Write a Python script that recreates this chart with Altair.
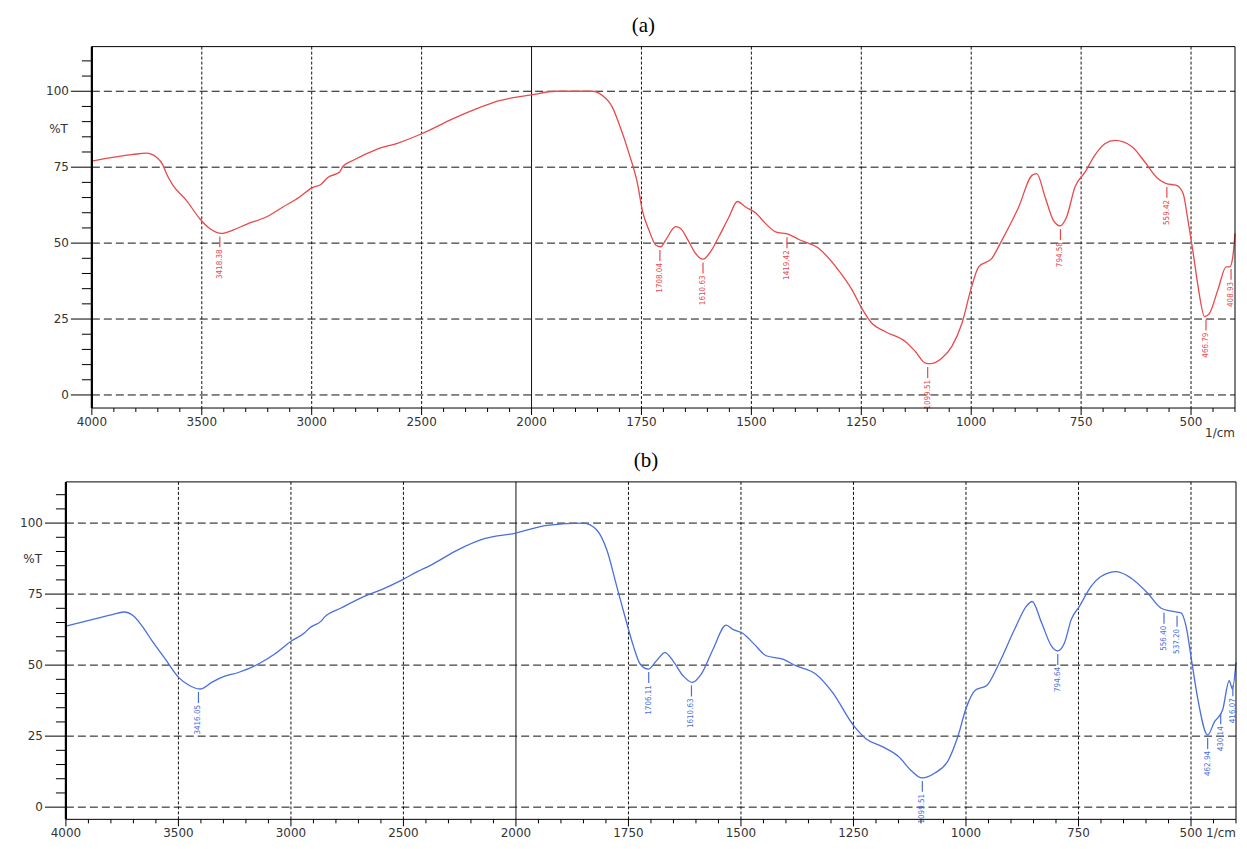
import altair as alt
import pandas as pd

# ---------------- data ----------------
wn_a = [4000, 3812, 3753, 3706, 3676, 3661, 3631, 3570, 3510, 3464, 3411, 3358, 3297, 3207, 3131,
        3055, 2999, 2957, 2927, 2873, 2858, 2813, 2707, 2601, 2500, 2359, 2252, 2146, 2001, 1945,
        1861, 1839, 1816, 1801, 1778, 1759, 1748, 1733, 1717, 1706, 1695, 1672, 1661, 1642, 1627,
        1610, 1593, 1574, 1551, 1532, 1513, 1490, 1468, 1445, 1415, 1392, 1347, 1302, 1271, 1251,
        1226, 1196, 1150, 1127, 1104, 1093, 1067, 1044, 1021, 1001, 983, 953, 930, 892, 862,
        851, 832, 813, 798, 783, 764, 741, 719, 696, 673, 635, 605, 575, 556, 533,
        518, 507, 495, 484, 469, 458, 439, 420, 412, 405, 400]
t_a = [77.0, 79.2, 79.6, 78.3, 75.6, 72.9, 69.0, 64.1, 58.1, 54.8, 53.2, 54.3, 56.2, 58.6, 61.9,
       65.2, 68.2, 69.4, 71.6, 73.4, 75.3, 77.2, 80.8, 83.1, 86.0, 90.9, 94.2, 96.9, 98.8, 100.0,
       100.0, 98.6, 94.7, 89.3, 79.4, 69.6, 60.8, 54.3, 49.3, 48.8, 51.0, 55.4, 54.8, 50.4, 46.6,
       44.7, 47.1, 52.1, 58.6, 63.7, 61.9, 59.9, 56.5, 53.7, 52.9, 51.2, 48.3, 41.1, 34.6, 29.1,
       23.6, 20.9, 17.6, 14.3, 10.5, 10.3, 12.1, 16.0, 23.6, 34.6, 42.2, 45.0, 51.0, 61.9, 72.3,
       72.9, 65.2, 57.5, 55.7, 58.6, 68.5, 73.4, 78.9, 82.7, 83.8, 81.8, 76.7, 71.2, 69.6, 69.0,
       66.3, 57.5, 46.6, 35.7, 25.8, 26.9, 34.6, 42.2, 42.2, 45.5, 53.2]

wn_b = [4000, 3853, 3794, 3742, 3698, 3661, 3617, 3558, 3499, 3455, 3403, 3352, 3308, 3234, 3145,
        3072, 2998, 2939, 2917, 2866, 2851, 2777, 2674, 2600, 2501, 2438, 2378, 2260, 2141, 2000,
        1931, 1850, 1820, 1798, 1776, 1754, 1739, 1724, 1706, 1688, 1669, 1651, 1629, 1608, 1588,
        1562, 1533, 1518, 1496, 1470, 1444, 1407, 1378, 1334, 1297, 1250, 1223, 1186, 1150, 1120,
        1098, 1069, 1039, 1017, 1000, 980, 954, 929, 892, 866, 853, 832, 810, 796, 781,
        766, 748, 722, 700, 666, 633, 596, 567, 544, 522, 511, 498, 485, 463, 448,
        430, 415, 408, 400]
t_b = [63.7, 66.6, 67.8, 68.7, 67.2, 63.7, 58.5, 52.1, 45.7, 43.0, 41.6, 43.9, 45.7, 47.4, 50.4,
       53.9, 58.5, 61.4, 63.1, 65.5, 66.9, 70.1, 74.2, 76.5, 80.2, 82.9, 85.2, 90.5, 94.5, 96.5,
       99.2, 100.0, 97.5, 90.5, 77.7, 64.9, 56.7, 50.4, 48.6, 51.5, 54.4, 51.5, 46.3, 43.9, 46.9,
       55.6, 64.1, 62.6, 61.2, 57.3, 53.3, 52.1, 49.8, 46.9, 40.5, 28.8, 24.2, 21.3, 17.8, 12.6,
       10.3, 12.0, 16.6, 25.4, 34.7, 41.1, 42.8, 49.8, 62.6, 70.7, 72.4, 64.9, 56.7, 55.0, 57.9,
       66.1, 70.7, 77.7, 81.2, 82.9, 80.6, 75.3, 70.1, 69.0, 68.4, 63.7, 50.9, 38.2, 25.4, 30.0,
       34.1, 44.5, 41.6, 50.9]

peak_wn_a = [3418, 1708, 1610, 1419, 1099, 797, 555, 466, 409]
peak_t_a = [53.2, 48.7, 44.6, 52.9, 10.2, 55.6, 69.5, 25.8, 42.5]
peak_lbl_a = ["3418.38", "1708.04", "1610.63", "1419.42", "1099.51", "794.58", "559.42", "466.79", "408.93"]

peak_wn_b = [3411, 1705, 1610, 1097, 796, 560, 531, 463, 434, 407]
peak_t_b = [41.6, 48.6, 43.9, 10.3, 55.0, 69.5, 68.4, 25.4, 34.1, 44.0]
peak_lbl_b = ["3416.05", "1706.11", "1610.63", "1099.51", "794.64", "556.40", "537.20", "462.94", "430.14", "416.07"]

x_major = [4000, 3500, 3000, 2500, 2000, 1750, 1500, 1250, 1000, 750, 500]
x_major_lbl = ["4000", "3500", "3000", "2500", "2000", "1750", "1500", "1250", "1000", "750", "500"]
x_minor = [v for v in list(range(3900, 2000, -100)) + list(range(1950, 399, -50)) if v not in x_major]
y_major = [0, 25, 50, 75, 100]
y_major_lbl = ["0", "25", "50", "75", "100"]
y_minor = [v for v in range(5, 115, 5) if v not in y_major]
h_grid = [0, 25, 50, 75, 100]
v_grid = [3500, 3000, 2500, 1750, 1500, 1250, 1000, 750, 500]
v_solid = [2000]

AXIS_FONT = "DejaVu Sans"
LABEL_FONT = "Liberation Sans Narrow, DejaVu Sans Condensed, Liberation Sans, sans-serif"
N = None


def panel(wn, t, pk_wn, pk_t, pk_lbl, color, width, left, height, ydom, title, tdx, unit_dy):
    xs = alt.Scale(domain=[4000, 2000, 400],
                   range=[left, left + (width - left) * 4 / 10.4, width], nice=False, zero=False)
    ys = alt.Scale(domain=ydom, nice=False, zero=False)
    one = pd.DataFrame({"k": [0]})

    hg = alt.Chart(pd.DataFrame({"g": h_grid})).mark_rule(
        color="#111", strokeWidth=1, strokeDash=[8, 4]).encode(
        y=alt.Y("g:Q", scale=ys, axis=N),
        x=alt.XDatum(4000, scale=xs, axis=N), x2=alt.X2Datum(400))
    vg = alt.Chart(pd.DataFrame({"g": v_grid})).mark_rule(
        color="#111", strokeWidth=1, strokeDash=[3, 2]).encode(x=alt.X("g:Q", axis=N))
    vs = alt.Chart(pd.DataFrame({"g": v_solid})).mark_rule(
        color="#111", strokeWidth=1).encode(x=alt.X("g:Q", axis=N))
    # x ticks and labels
    xmaj = alt.Chart(pd.DataFrame({"g": x_major})).mark_rule(
        color="black", strokeWidth=1, y2Offset=7).encode(
        x=alt.X("g:Q", axis=N), y=alt.YDatum(ydom[0], axis=N), y2=alt.Y2Datum(ydom[0]))
    xmin = alt.Chart(pd.DataFrame({"g": x_minor})).mark_rule(
        color="black", strokeWidth=1, y2Offset=4).encode(
        x=alt.X("g:Q", axis=N), y=alt.YDatum(ydom[0], axis=N), y2=alt.Y2Datum(ydom[0]))
    xlab = alt.Chart(pd.DataFrame({"g": x_major, "s": x_major_lbl})).mark_text(
        align="center", baseline="middle", yOffset=14, font=AXIS_FONT, fontSize=12,
        color="#333").encode(
        x=alt.X("g:Q", axis=N), y=alt.YDatum(ydom[0], axis=N), text="s:N")
    unit = alt.Chart(one).mark_text(
        text="1/cm", align="right", baseline="middle", yOffset=unit_dy, font=AXIS_FONT,
        fontSize=12, color="#333").encode(
        x=alt.XDatum(400, axis=N), y=alt.YDatum(ydom[0], axis=N))
    # y ticks and labels
    ymaj = alt.Chart(pd.DataFrame({"g": y_major})).mark_rule(
        color="black", strokeWidth=1, x2Offset=-21).encode(
        y=alt.Y("g:Q", axis=N), x=alt.XDatum(4000, axis=N), x2=alt.X2Datum(4000))
    ymin = alt.Chart(pd.DataFrame({"g": y_minor})).mark_rule(
        color="black", strokeWidth=1, x2Offset=-10).encode(
        y=alt.Y("g:Q", axis=N), x=alt.XDatum(4000, axis=N), x2=alt.X2Datum(4000))
    ylab = alt.Chart(pd.DataFrame({"g": y_major, "s": y_major_lbl})).mark_text(
        align="right", baseline="middle", xOffset=-23, font=AXIS_FONT, fontSize=12,
        color="#333").encode(
        y=alt.Y("g:Q", axis=N), x=alt.XDatum(4000, axis=N), text="s:N")
    pct = alt.Chart(one).mark_text(
        text="%T", align="right", baseline="middle", xOffset=-24,
        font=AXIS_FONT, fontSize=12, color="#333").encode(
        x=alt.XDatum(4000, axis=N), y=alt.YDatum(87.5, axis=N))
    # spectrum and peak labels
    line = alt.Chart(pd.DataFrame({"wn": wn, "T": t})).mark_line(
        color=color, strokeWidth=1.3, interpolate="monotone").encode(
        x=alt.X("wn:Q", axis=N), y=alt.Y("T:Q", axis=N))
    pk = pd.DataFrame({"wn": pk_wn, "T": pk_t, "lbl": pk_lbl})
    sticks = alt.Chart(pk).mark_rule(color=color, strokeWidth=1.2, yOffset=3, y2Offset=14).encode(
        x=alt.X("wn:Q", axis=N), y=alt.Y("T:Q", axis=N), y2=alt.Y2("T:Q"))
    texts = alt.Chart(pk).mark_text(
        color=color, angle=270, align="right", baseline="middle", yOffset=16,
        font=LABEL_FONT, fontSize=8).encode(
        x=alt.X("wn:Q", axis=N), y=alt.Y("T:Q", axis=N), text="lbl:N")
    frame = alt.Chart(one).mark_rect(fillOpacity=0, stroke="black", strokeWidth=1).encode(
        x=alt.XDatum(4000, axis=N), x2=alt.X2Datum(400),
        y=alt.YDatum(ydom[0], axis=N), y2=alt.Y2Datum(ydom[1]))
    leftline = alt.Chart(one).mark_rule(color="black", strokeWidth=2.2).encode(
        x=alt.XDatum(4000, axis=N))
    return alt.layer(hg, vg, vs, xmaj, xmin, xlab, unit, ymaj, ymin, ylab, pct,
                     line, sticks, texts, frame, leftline).properties(
        width=width, height=height,
        title=alt.TitleParams(text=title, font="Liberation Serif", fontSize=21,
                              fontWeight="normal", color="black", anchor="middle",
                              frame="group", baseline="bottom", offset=-11, dx=tdx))


pa = panel(wn_a, t_a, peak_wn_a, peak_t_a, peak_lbl_a, "#e8494b", 1171, 26, 362,
           [-4.3, 114.7], "(a)", -7, 25)
pb = panel(wn_b, t_b, peak_wn_b, peak_t_b, peak_lbl_b, "#4a6fdd", 1172, 0, 338,
           [-4.3, 114.5], "(b)", -5, 14)

chart = alt.vconcat(pa, pb, spacing=10).configure_view(stroke=None).properties(
    padding={"left": 12, "top": 5, "right": 0, "bottom": 0})

chart.save("out.html", embed_options={"renderer": "svg", "actions": False})
